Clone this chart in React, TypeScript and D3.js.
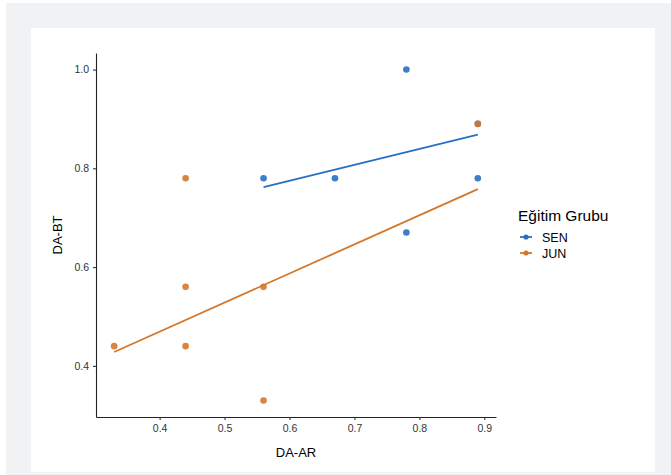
import * as d3 from "d3";
import { useEffect, useRef } from "react";

// data
const groups = ["SEN", "JUN"];
const senX = [0.56, 0.67, 0.78, 0.78, 0.89, 0.89];
const senY = [0.78, 0.78, 1.0, 0.67, 0.89, 0.78];
const junX = [0.33, 0.44, 0.44, 0.44, 0.56, 0.56, 0.89];
const junY = [0.44, 0.78, 0.56, 0.44, 0.56, 0.33, 0.89];
// fitted (lm) values at the ends of each group's x range
const senFit = [0.762, 0.868];
const junFit = [0.428, 0.758];
const xTicks = [0.4, 0.5, 0.6, 0.7, 0.8, 0.9];
const yTicks = [0.4, 0.6, 0.8, 1.0];
const groupColors = ["#2870C2", "#D5772A"];

const FONT = "'Liberation Sans', Arial, Helvetica, sans-serif";

function App() {
    const ref = useRef<SVGSVGElement | null>(null);

    useEffect(() => {
        const width = 671,
            height = 475;
        const plot = { left: 96, right: 496, top: 53, bottom: 417 };

        const svg = d3.select(ref.current);
        svg.selectAll("*").remove();

        // page background + white card
        svg.append("rect").attr("x", 6).attr("y", 3).attr("width", width - 6).attr("height", height - 3).attr("fill", "#f1f2f4");
        svg.append("rect").attr("x", 31).attr("y", 28).attr("width", 624).attr("height", 444).attr("fill", "#ffffff");

        const allX = senX.concat(junX);
        const allY = senY.concat(junY);
        const [x0, x1] = d3.extent(allX) as [number, number];
        const [y0, y1] = d3.extent(allY) as [number, number];
        const xPad = (x1 - x0) * 0.05,
            yPad = (y1 - y0) * 0.05;

        const x = d3.scaleLinear().domain([x0 - xPad, x1 + xPad]).range([plot.left, plot.right]);
        const y = d3.scaleLinear().domain([y0 - yPad, y1 + yPad]).range([plot.bottom, plot.top]);
        const color = d3.scaleOrdinal<string, string>().domain(groups).range(groupColors);

        // axes
        const xAxis = svg
            .append("g")
            .attr("transform", `translate(0,${plot.bottom})`)
            .call(d3.axisBottom(x).tickValues(xTicks).tickFormat(d3.format(".1f")).tickSizeInner(3).tickSizeOuter(0).tickPadding(5));
        const yAxis = svg
            .append("g")
            .attr("transform", `translate(${plot.left},0)`)
            .call(d3.axisLeft(y).tickValues(yTicks).tickFormat(d3.format(".1f")).tickSizeInner(3).tickSizeOuter(0).tickPadding(4));
        [xAxis, yAxis].forEach((ax) => {
            ax.select(".domain").attr("stroke", "#222").attr("stroke-width", 1.1);
            ax.selectAll(".tick line").attr("stroke", "#333").attr("stroke-width", 1.1);
            ax.selectAll(".tick text").attr("fill", "#333").style("font-family", FONT).style("font-size", "10.5px");
        });

        // axis titles
        svg
            .append("text")
            .attr("x", (plot.left + plot.right) / 2)
            .attr("y", 457)
            .attr("text-anchor", "middle")
            .style("font-family", FONT)
            .style("font-size", "13px")
            .text("DA-AR");
        svg
            .append("text")
            .attr("transform", `translate(62,${(plot.top + plot.bottom) / 2}) rotate(-90)`)
            .attr("text-anchor", "middle")
            .style("font-family", FONT)
            .style("font-size", "13px")
            .text("DA-BT");

        const series = [
            { name: "SEN", xs: senX, ys: senY, fit: senFit },
            { name: "JUN", xs: junX, ys: junY, fit: junFit },
        ];

        // points
        series.forEach((s) => {
            svg
                .append("g")
                .selectAll("circle")
                .data(s.xs.map((v, i) => [v, s.ys[i]]))
                .join("circle")
                .attr("cx", (d) => x(d[0]))
                .attr("cy", (d) => y(d[1]))
                .attr("r", 3.3)
                .attr("fill", color(s.name))
                .attr("fill-opacity", 0.9);
        });

        // regression lines
        const line = d3
            .line<number[]>()
            .x((d) => x(d[0]))
            .y((d) => y(d[1]));
        series.forEach((s) => {
            const ext = d3.extent(s.xs) as [number, number];
            svg
                .append("path")
                .attr("d", line([[ext[0], s.fit[0]], [ext[1], s.fit[1]]]))
                .attr("fill", "none")
                .attr("stroke", color(s.name))
                .attr("stroke-width", 1.8);
        });

        // legend
        const legend = svg.append("g").attr("transform", "translate(518,0)");
        legend
            .append("text")
            .attr("x", 0)
            .attr("y", 221)
            .style("font-family", FONT)
            .style("font-size", "15.5px")
            .text("Eğitim Grubu");
        groups.forEach((g, i) => {
            const cy = 237 + i * 16;
            legend.append("line").attr("x1", 2).attr("x2", 14).attr("y1", cy).attr("y2", cy).attr("stroke", color(g)).attr("stroke-width", 1.8);
            legend.append("circle").attr("cx", 8).attr("cy", cy).attr("r", 2.6).attr("fill", color(g));
            legend
                .append("text")
                .attr("x", 24)
                .attr("y", cy + 4.5)
                .style("font-family", FONT)
                .style("font-size", "12.5px")
                .text(g);
        });
    }, []);

    return (
        <svg
            ref={ref}
            width={671}
            height={475}
            style={{ position: "absolute", left: 0, top: 0, display: "block" }}
        ></svg>
    );
}

export default App;
